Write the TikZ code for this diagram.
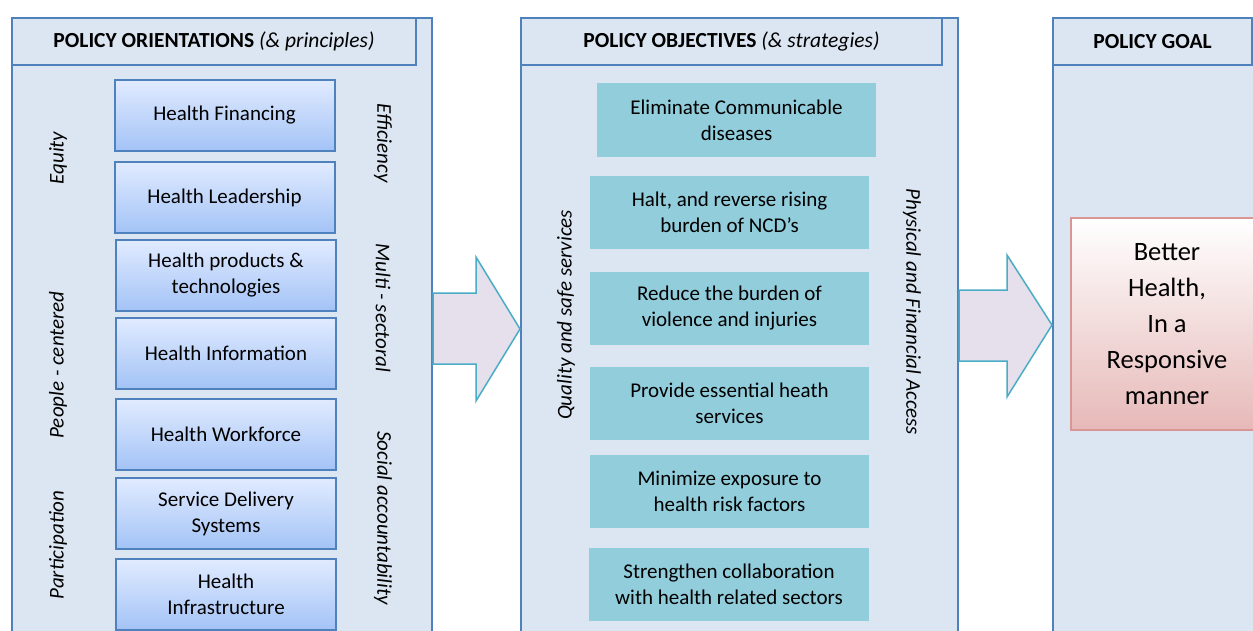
\documentclass[tikz,border=0pt]{standalone}
\usepackage{fontspec}
\setmainfont{Carlito}
\usepackage{tikz}
\usetikzlibrary{positioning}

\definecolor{panelfill}{HTML}{DCE6F2}
\definecolor{panelline}{HTML}{4F81BD}
\definecolor{pillartop}{HTML}{E1EBFF}
\definecolor{pillarbot}{HTML}{A3C3F6}
\definecolor{objfill}{HTML}{92CDDC}
\definecolor{arrowfill}{HTML}{E5E0EC}
\definecolor{arrowline}{HTML}{4BACC6}
\definecolor{goalbot}{HTML}{E6B9B8}
\definecolor{goalline}{HTML}{D99694}

\tikzset{
  panel/.style={draw=panelline, fill=panelfill, line width=2pt, inner sep=0pt},
  headbox/.style={draw=panelline, fill=panelfill, line width=2pt, minimum height=47pt, inner sep=0pt,
    font=\fontsize{21.5}{24}\selectfont},
  pillar/.style={draw=panelline, line width=2pt, top color=pillartop, bottom color=pillarbot,
    minimum width=220pt, minimum height=71pt, align=center, inner sep=0pt,
    font=\fontsize{21}{26}\selectfont},
  objbox/.style={fill=objfill, minimum width=279pt, minimum height=73pt, align=center, inner sep=0pt,
    font=\fontsize{21}{26}\selectfont},
  goalbox/.style={draw=goalline, line width=2.5pt, top color=white, bottom color=goalbot,
    minimum width=192pt, minimum height=212pt, align=center, inner sep=0pt,
    font=\fontsize{26.5}{36}\selectfont},
  principle/.style={font=\fontsize{21}{24}\selectfont\itshape, inner sep=0pt},
  bigarrow/.style={draw=arrowline, fill=arrowfill, line width=1.5pt, line join=miter}
}

\begin{document}
\begin{tikzpicture}[x=1pt, y=-1pt]
    \clip (0, 0) rectangle (1253, 631);
    \fill [white] (0, 0) rectangle (1253, 631);

    % the three columns
    \node [panel, minimum width=420pt, minimum height=632pt] (orient) at (222, 334) {};
    \node [panel, minimum width=437pt, minimum height=632pt] (obj) at (739.5, 334) {};
    \node [panel, minimum width=228pt, minimum height=632pt] (goal) at (1167, 334) {};

    \node [headbox, minimum width=404pt] (orienthead) at (214, 41.5) {\textbf{POLICY ORIENTATIONS} \textit{(\& principles)}};
    \node [headbox, minimum width=421pt] (objhead) at (731.5, 41.5) {\textbf{POLICY OBJECTIVES} \textit{(\& strategies)}};
    \node [headbox, minimum width=199pt] (goalhead) at (1152.5, 41.5) {\textbf{POLICY GOAL}};

    % building blocks
    \node [pillar] (financing) at (224.5, 115.5) {Health Financing};
    \node [pillar] (leadership) at (224.5, 197.5) {Health Leadership};
    \node [pillar] (products) at (226, 275.5) {Health products \&\\technologies};
    \node [pillar] (information) at (226, 353) {Health Information};
    \node [pillar] (workforce) at (226, 434.5) {Health Workforce};
    \node [pillar] (delivery) at (226, 513.5) {Service Delivery\\Systems};
    \node [pillar] (infrastructure) at (226, 594.5) {Health\\Infrastructure};

    \node [principle, rotate=90] (equity) at (58, 158) {Equity};
    \node [principle, rotate=90] (people) at (58, 365) {People - centered};
    \node [principle, rotate=90] (participation) at (58, 545) {Participation};
    \node [principle, rotate=-90] (efficiency) at (383, 143) {Efficiency};
    \node [principle, rotate=-90] (multi) at (383, 308) {Multi - sectoral};
    \node [principle, rotate=-90] (social) at (383, 518) {Social accountability};

    % objectives
    \node [objbox, minimum height=74pt] (communicable) at (736.5, 120) {Eliminate Communicable\\diseases};
    \node [objbox] (ncd) at (729.5, 212.5) {Halt, and reverse rising\\burden of NCD’s};
    \node [objbox] (violence) at (729.5, 308) {Reduce the burden of\\violence and injuries};
    \node [objbox] (essential) at (729.5, 403.5) {Provide essential heath\\services};
    \node [objbox] (risk) at (729.5, 491.5) {Minimize exposure to\\health risk factors};
    \node [objbox, minimum width=280pt] (collab) at (729, 584.5) {Strengthen collaboration\\with health related sectors};

    \node [principle, rotate=90] (quality) at (566, 315) {Quality and safe services};
    \node [principle, rotate=-90] (access) at (912, 312) {Physical and Financial Access};

    % goal
    \node [goalbox] (better) at (1167, 324) {Better\\Health,\\In a\\Responsive\\manner};

    % block arrows between the columns
    \draw [bigarrow] (orient.east |- 0, 293) -- (476, 293) -- (476, 257) -- (obj.west |- 0, 329)
        -- (476, 401) -- (476, 364) -- (orient.east |- 0, 364) -- cycle;
    \draw [bigarrow] (obj.east |- 0, 290) -- (1007, 290) -- (1007, 255) -- (goal.west |- 0, 325)
        -- (1007, 397) -- (1007, 361) -- (obj.east |- 0, 361) -- cycle;
\end{tikzpicture}
\end{document}
